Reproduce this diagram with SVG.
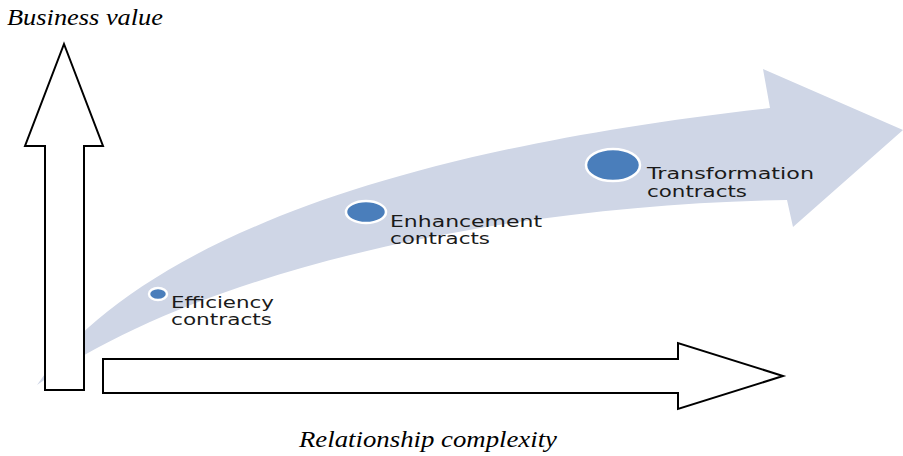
<svg xmlns="http://www.w3.org/2000/svg" width="903" height="456" viewBox="0 0 903 456">
<defs>
<style>
.axis{fill:#ffffff;stroke:#000000;stroke-width:2;stroke-linejoin:miter}
.ribbon{fill:#CFD6E6;stroke:none}
.dot{fill:#4A7EBB;stroke:#ffffff;stroke-width:2.5}
.lbl{font-family:"DejaVu Sans",Verdana,sans-serif;font-size:15px;fill:#1a1a1a}
.ax{font-family:"Liberation Serif","Times New Roman",serif;font-style:italic;font-size:24px;fill:#000000}
</style>
</defs>
<rect width="903" height="456" fill="#ffffff"/>
<g id="connectors">
<path class="ribbon" d="M37,385 C110,280 300,160 770,108 L763,69 L903,130 L793,227 L787,200 C500,205 200,270 37,385 Z"/>
</g>
<g id="axis-value">
<polygon class="axis" points="64,44 103,146 84,146 84,390 45,390 45,146 25,146"/>
<text class="ax" x="7" y="25" textLength="156" lengthAdjust="spacingAndGlyphs">Business value</text>
</g>
<g id="axis-complexity">
<polygon class="axis" points="103,359 678,359 678,343 783,376 678,409 678,393 103,393"/>
<text class="ax" x="299" y="447" textLength="258" lengthAdjust="spacingAndGlyphs">Relationship complexity</text>
</g>
<g id="efficiency">
<ellipse class="dot" cx="158" cy="294" rx="9" ry="6"/>
<text class="lbl" x="171" y="308" textLength="103" lengthAdjust="spacingAndGlyphs">Efficiency</text>
<text class="lbl" x="171" y="325" textLength="101" lengthAdjust="spacingAndGlyphs">contracts</text>
</g>
<g id="enhancement">
<ellipse class="dot" cx="366" cy="212" rx="20" ry="11"/>
<text class="lbl" x="390" y="227" textLength="152" lengthAdjust="spacingAndGlyphs">Enhancement</text>
<text class="lbl" x="390" y="244" textLength="100" lengthAdjust="spacingAndGlyphs">contracts</text>
</g>
<g id="transformation">
<ellipse class="dot" cx="613" cy="165" rx="27" ry="16"/>
<text class="lbl" x="647" y="179" textLength="167" lengthAdjust="spacingAndGlyphs">Transformation</text>
<text class="lbl" x="647" y="197" textLength="100" lengthAdjust="spacingAndGlyphs">contracts</text>
</g>
</svg>
